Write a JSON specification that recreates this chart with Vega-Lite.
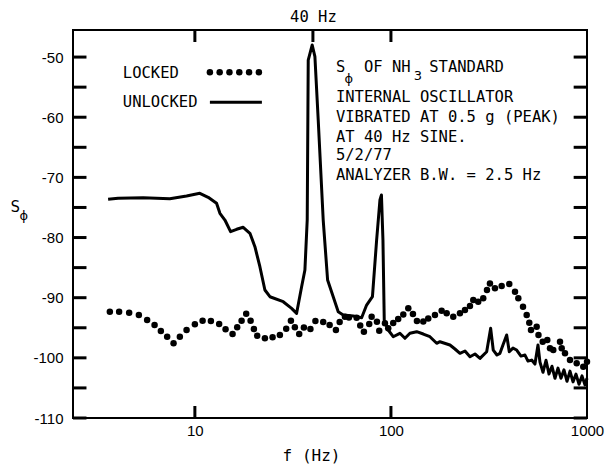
{
  "$schema": "https://vega.github.io/schema/vega-lite/v6.json",
  "width": 514,
  "height": 388,
  "autosize": "none",
  "padding": {"left": 73, "top": 30, "right": 19, "bottom": 51},
  "background": "white",
  "config": {
    "view": {"stroke": "black", "strokeWidth": 2},
    "axis": {
      "grid": false,
      "domain": false,
      "ticks": false,
      "labelColor": "black",
      "titleColor": "black",
      "labelFont": "Liberation Sans",
      "labelFontSize": 15,
      "labelOverlap": false,
      "labelFlush": false
    }
  },
  "datasets": {
    "unlocked": [
      {"f": 3.61, "v": -73.65}, {"f": 4.06, "v": -73.48}, {"f": 5.45, "v": -73.38}, {"f": 7.45, "v": -73.54},
      {"f": 9.07, "v": -73.1}, {"f": 10.6, "v": -72.65}, {"f": 11.69, "v": -73.31}, {"f": 12.9, "v": -74.31},
      {"f": 13.42, "v": -75.97}, {"f": 14.23, "v": -77.09}, {"f": 15.21, "v": -79.03}, {"f": 16.33, "v": -78.63},
      {"f": 17.64, "v": -78.3}, {"f": 19.09, "v": -79.3}, {"f": 20.24, "v": -81.52}, {"f": 21.46, "v": -84.85},
      {"f": 22.76, "v": -88.72}, {"f": 24.14, "v": -89.84}, {"f": 28.22, "v": -90.67}, {"f": 31.14, "v": -91.77},
      {"f": 33.03, "v": -92.6}, {"f": 35.03, "v": -88.17}, {"f": 36.41, "v": -85.4}, {"f": 37.41, "v": -77.09},
      {"f": 37.86, "v": -50.49}, {"f": 39.67, "v": -47.99}, {"f": 40.95, "v": -49.94}, {"f": 42.57, "v": -60.46},
      {"f": 45.14, "v": -77.09}, {"f": 47.53, "v": -87.06}, {"f": 50.77, "v": -89.84}, {"f": 53.84, "v": -92.33},
      {"f": 57.08, "v": -92.88}, {"f": 64.23, "v": -93.04}, {"f": 70.88, "v": -93.33}, {"f": 75.16, "v": -91.22},
      {"f": 80.48, "v": -89.84}, {"f": 84.53, "v": -80.41}, {"f": 87.9, "v": -73.76}, {"f": 89.45, "v": -72.93},
      {"f": 91.05, "v": -80.41}, {"f": 92.44, "v": -93.71}, {"f": 96.87, "v": -95.37}, {"f": 102.7, "v": -96.49},
      {"f": 111.1, "v": -95.92}, {"f": 117.9, "v": -96.75}, {"f": 125.0, "v": -95.92}, {"f": 135.3, "v": -95.65},
      {"f": 146.2, "v": -96.04}, {"f": 158.1, "v": -96.49}, {"f": 171.1, "v": -97.58}, {"f": 177.8, "v": -97.32},
      {"f": 200.0, "v": -97.87}, {"f": 212.1, "v": -98.53}, {"f": 224.9, "v": -99.25}, {"f": 238.6, "v": -98.86},
      {"f": 253.0, "v": -99.81}, {"f": 268.3, "v": -99.36}, {"f": 284.6, "v": -100.08}, {"f": 307.8, "v": -98.98},
      {"f": 322.6, "v": -95.09}, {"f": 332.5, "v": -98.7}, {"f": 347.3, "v": -99.53}, {"f": 359.8, "v": -99.25},
      {"f": 372.7, "v": -97.87}, {"f": 389.3, "v": -96.2}, {"f": 401.4, "v": -98.98}, {"f": 419.2, "v": -98.38},
      {"f": 437.8, "v": -98.7}, {"f": 460.5, "v": -99.71}, {"f": 482.7, "v": -99.54}, {"f": 500.0, "v": -100.54},
      {"f": 522.2, "v": -100.37}, {"f": 542.8, "v": -101.04}, {"f": 562.3, "v": -97.87}, {"f": 575.6, "v": -100.7},
      {"f": 596.4, "v": -102.4}, {"f": 617.9, "v": -100.4}, {"f": 640.1, "v": -102.7}, {"f": 663.0, "v": -101.4},
      {"f": 686.8, "v": -103.4}, {"f": 711.2, "v": -101.7}, {"f": 736.7, "v": -103.4}, {"f": 763.2, "v": -102.0},
      {"f": 790.7, "v": -103.9}, {"f": 819.0, "v": -102.2}, {"f": 848.5, "v": -104.0}, {"f": 878.9, "v": -102.7},
      {"f": 910.6, "v": -104.4}, {"f": 943.0, "v": -103.0}, {"f": 977.0, "v": -104.5}, {"f": 1000, "v": -103.4}
    ],
    "locked": [
      {"f": 3.684, "v": -92.33}, {"f": 4.108, "v": -92.33}, {"f": 4.622, "v": -92.5}, {"f": 5.18, "v": -92.88},
      {"f": 5.709, "v": -93.71}, {"f": 6.229, "v": -94.54}, {"f": 6.707, "v": -95.54}, {"f": 7.223, "v": -96.49},
      {"f": 7.785, "v": -97.58}, {"f": 8.384, "v": -96.49}, {"f": 9.07, "v": -95.37}, {"f": 10.0, "v": -94.42},
      {"f": 10.95, "v": -93.83}, {"f": 12.07, "v": -93.88}, {"f": 13.3, "v": -94.37}, {"f": 14.34, "v": -95.26},
      {"f": 15.57, "v": -96.04}, {"f": 16.44, "v": -94.92}, {"f": 17.31, "v": -93.83}, {"f": 18.27, "v": -92.66},
      {"f": 19.24, "v": -93.83}, {"f": 20.0, "v": -95.21}, {"f": 20.79, "v": -96.32}, {"f": 22.76, "v": -96.75},
      {"f": 24.91, "v": -96.59}, {"f": 27.14, "v": -96.2}, {"f": 29.23, "v": -95.16}, {"f": 30.89, "v": -93.83},
      {"f": 32.36, "v": -94.92}, {"f": 34.05, "v": -96.04}, {"f": 35.98, "v": -94.95}, {"f": 38.85, "v": -95.21},
      {"f": 41.19, "v": -93.88}, {"f": 45.14, "v": -94.04}, {"f": 48.67, "v": -94.54}, {"f": 52.41, "v": -95.37},
      {"f": 54.76, "v": -94.04}, {"f": 58.26, "v": -93.16}, {"f": 61.06, "v": -93.29}, {"f": 66.83, "v": -93.33},
      {"f": 69.72, "v": -94.62}, {"f": 72.81, "v": -95.65}, {"f": 77.5, "v": -94.37}, {"f": 79.72, "v": -93.16},
      {"f": 84.85, "v": -93.99}, {"f": 87.17, "v": -95.49}, {"f": 93.2, "v": -94.26}, {"f": 96.87, "v": -95.09},
      {"f": 102.7, "v": -94.21}, {"f": 108.9, "v": -93.54}, {"f": 115.6, "v": -92.8}, {"f": 122.6, "v": -91.77},
      {"f": 129.5, "v": -92.71}, {"f": 135.7, "v": -93.88}, {"f": 146.2, "v": -93.96}, {"f": 155.0, "v": -93.46},
      {"f": 167.7, "v": -92.88}, {"f": 181.4, "v": -92.16}, {"f": 192.4, "v": -92.6}, {"f": 207.9, "v": -93.16},
      {"f": 224.9, "v": -92.6}, {"f": 238.6, "v": -92.05}, {"f": 253.0, "v": -91.38}, {"f": 263.0, "v": -90.38},
      {"f": 278.8, "v": -90.67}, {"f": 295.7, "v": -90.1}, {"f": 308.9, "v": -88.72}, {"f": 319.9, "v": -87.64},
      {"f": 339.3, "v": -88.44}, {"f": 367.1, "v": -88.06}, {"f": 401.4, "v": -87.72}, {"f": 429.4, "v": -89.01},
      {"f": 446.4, "v": -90.1}, {"f": 471.7, "v": -91.5}, {"f": 492.5, "v": -92.88}, {"f": 507.8, "v": -94.16},
      {"f": 518.1, "v": -95.37}, {"f": 553.8, "v": -94.82}, {"f": 565.6, "v": -96.2}, {"f": 594.3, "v": -97.32},
      {"f": 627.4, "v": -97.03}, {"f": 647.5, "v": -98.41}, {"f": 673.1, "v": -98.7}, {"f": 728.3, "v": -97.32},
      {"f": 743.0, "v": -98.41}, {"f": 772.3, "v": -99.25}, {"f": 819.0, "v": -100.36}, {"f": 886.0, "v": -100.91},
      {"f": 957.4, "v": -101.47}, {"f": 1000, "v": -100.64}
    ],
    "legendDots": [
      {"f": 11.93, "v": -52.53}, {"f": 13.38, "v": -52.53}, {"f": 15.01, "v": -52.53},
      {"f": 16.85, "v": -52.53}, {"f": 18.9, "v": -52.53}, {"f": 21.21, "v": -52.53}
    ],
    "legendLine": [
      {"f": 11.93, "v": -57.52}, {"f": 21.97, "v": -57.52}
    ],
    "texts": [
      {"f": 4.293, "v": -52.65, "t": "LOCKED"},
      {"f": 4.293, "v": -57.42, "t": "UNLOCKED"},
      {"f": 52.41, "v": -51.6, "t": "S\u00a0\u00a0OF NH\u00a0\u00a0STANDARD"},
      {"f": 52.41, "v": -56.59, "t": "INTERNAL OSCILLATOR"},
      {"f": 52.41, "v": -59.91, "t": "VIBRATED AT 0.5 g (PEAK)"},
      {"f": 52.41, "v": -63.24, "t": "AT 40 Hz SINE."},
      {"f": 52.41, "v": -66.28, "t": "5/2/77"},
      {"f": 52.41, "v": -69.6, "t": "ANALYZER B.W. = 2.5 Hz"}
    ],
    "subs": [
      {"f": 61.0, "v": -53.65, "t": "ϕ"},
      {"f": 137.3, "v": -53.15, "t": "3"},
      {"f": 1.341, "v": -76.42, "t": "ϕ"}
    ],
    "yticks": [
      {"v": -110}, {"v": -105}, {"v": -100}, {"v": -95}, {"v": -90}, {"v": -85}, {"v": -80},
      {"v": -75}, {"v": -70}, {"v": -65}, {"v": -60}, {"v": -55}, {"v": -50}
    ],
    "topticks": [{"f": 10}, {"f": 40}, {"f": 100}],
    "bottomticks": [{"f": 10}, {"f": 100}]
  },
  "layer": [
    {
      "data": {"name": "unlocked"},
      "mark": {"type": "line", "color": "black", "strokeWidth": 3, "strokeJoin": "round"},
      "encoding": {
        "x": {
          "field": "f", "type": "quantitative",
          "scale": {"type": "log", "domain": [2.39, 1000], "nice": false},
          "axis": {
            "orient": "bottom", "values": [10, 100, 1000], "format": "d",
            "labelPadding": 5,
            "title": "f (Hz)", "titleFont": "DejaVu Sans Mono", "titleFontSize": 16, "titleFontWeight": "normal",
            "titleX": 238, "titleY": 37, "titleBaseline": "middle", "titleAlign": "center"
          }
        },
        "y": {
          "field": "v", "type": "quantitative",
          "scale": {"domain": [-110, -45.5], "nice": false, "zero": false},
          "axis": {
            "orient": "left",
            "values": [-110, -100, -90, -80, -70, -60, -50],
            "labelExpr": "'-' + abs(datum.value)",
            "labelPadding": 10,
            "title": "S", "titleAngle": 0, "titleX": -63, "titleY": 176,
            "titleAlign": "left", "titleBaseline": "middle",
            "titleFont": "DejaVu Sans Mono", "titleFontSize": 16, "titleFontWeight": "normal"
          }
        }
      }
    },
    {
      "data": {"name": "locked"},
      "mark": {"type": "circle", "color": "black", "opacity": 1, "size": 42},
      "encoding": {
        "x": {
          "field": "f", "type": "quantitative",
          "scale": {"type": "log", "domain": [2.39, 1000], "nice": false},
          "axis": {
            "orient": "top", "values": [40],
            "labelExpr": "'40 Hz'",
            "labelFont": "DejaVu Sans Mono", "labelFontSize": 15.5,
            "labelPadding": 6, "title": null
          }
        },
        "y": {
          "field": "v", "type": "quantitative",
          "scale": {"domain": [-110, -45.5], "nice": false, "zero": false},
          "axis": null
        }
      }
    },
    {
      "data": {"name": "yticks"},
      "mark": {"type": "rule", "color": "black", "strokeWidth": 3},
      "encoding": {
        "x": {"datum": 2.39, "type": "quantitative", "scale": {"type": "log", "domain": [2.39, 1000], "nice": false}, "axis": null},
        "x2": {"datum": 2.8},
        "y": {"field": "v", "type": "quantitative", "scale": {"domain": [-110, -45.5], "nice": false, "zero": false}, "axis": null}
      }
    },
    {
      "data": {"name": "yticks"},
      "mark": {"type": "rule", "color": "black", "strokeWidth": 3},
      "encoding": {
        "x": {"datum": 855, "type": "quantitative", "scale": {"type": "log", "domain": [2.39, 1000], "nice": false}, "axis": null},
        "x2": {"datum": 1000},
        "y": {"field": "v", "type": "quantitative", "scale": {"domain": [-110, -45.5], "nice": false, "zero": false}, "axis": null}
      }
    },
    {
      "data": {"name": "topticks"},
      "mark": {"type": "rule", "color": "black", "strokeWidth": 3},
      "encoding": {
        "x": {"field": "f", "type": "quantitative", "scale": {"type": "log", "domain": [2.39, 1000], "nice": false}, "axis": null},
        "y": {"datum": -45.5, "type": "quantitative", "scale": {"domain": [-110, -45.5], "nice": false, "zero": false}, "axis": null},
        "y2": {"datum": -47.5}
      }
    },
    {
      "data": {"name": "bottomticks"},
      "mark": {"type": "rule", "color": "black", "strokeWidth": 3},
      "encoding": {
        "x": {"field": "f", "type": "quantitative", "scale": {"type": "log", "domain": [2.39, 1000], "nice": false}, "axis": null},
        "y": {"datum": -110, "type": "quantitative", "scale": {"domain": [-110, -45.5], "nice": false, "zero": false}, "axis": null},
        "y2": {"datum": -108}
      }
    },
    {
      "data": {"name": "legendDots"},
      "mark": {"type": "circle", "color": "black", "opacity": 1, "size": 42},
      "encoding": {
        "x": {"field": "f", "type": "quantitative", "scale": {"type": "log", "domain": [2.39, 1000], "nice": false}, "axis": null},
        "y": {"field": "v", "type": "quantitative", "scale": {"domain": [-110, -45.5], "nice": false, "zero": false}, "axis": null}
      }
    },
    {
      "data": {"name": "legendLine"},
      "mark": {"type": "line", "color": "black", "strokeWidth": 3},
      "encoding": {
        "x": {"field": "f", "type": "quantitative", "scale": {"type": "log", "domain": [2.39, 1000], "nice": false}, "axis": null},
        "y": {"field": "v", "type": "quantitative", "scale": {"domain": [-110, -45.5], "nice": false, "zero": false}, "axis": null}
      }
    },
    {
      "data": {"name": "texts"},
      "mark": {"type": "text", "font": "DejaVu Sans Mono", "fontSize": 15.5, "align": "left", "baseline": "middle", "fill": "black"},
      "encoding": {
        "x": {"field": "f", "type": "quantitative", "scale": {"type": "log", "domain": [2.39, 1000], "nice": false}, "axis": null},
        "y": {"field": "v", "type": "quantitative", "scale": {"domain": [-110, -45.5], "nice": false, "zero": false}, "axis": null},
        "text": {"field": "t"}
      }
    },
    {
      "data": {"name": "subs"},
      "mark": {"type": "text", "font": "DejaVu Sans", "fontSize": 13, "align": "center", "baseline": "middle", "fill": "black"},
      "encoding": {
        "x": {"field": "f", "type": "quantitative", "scale": {"type": "log", "domain": [2.39, 1000], "nice": false}, "axis": null},
        "y": {"field": "v", "type": "quantitative", "scale": {"domain": [-110, -45.5], "nice": false, "zero": false}, "axis": null},
        "text": {"field": "t"}
      }
    }
  ],
  "resolve": {"axis": {"x": "independent", "y": "independent"}}
}
